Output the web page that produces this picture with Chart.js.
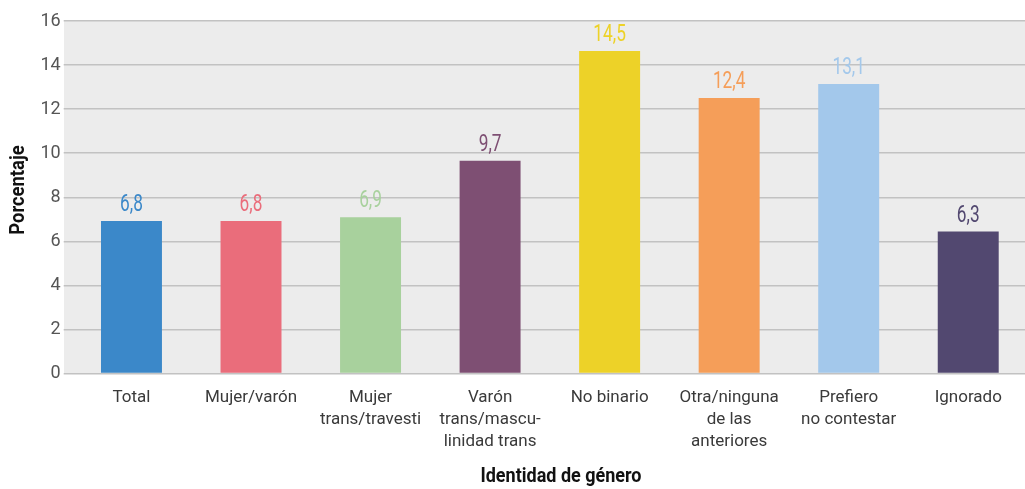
<!DOCTYPE html>
<html>
<head>
<meta charset="utf-8">
<script src="https://cdn.jsdelivr.net/npm/chart.js@4.4.1/dist/chart.umd.min.js"></script>
<style>
  html, body { margin: 0; padding: 0; background: #fff; overflow: hidden; }
  #wrap { position: relative; width: 1030px; height: 489px; }
</style>
</head>
<body>
<div id="wrap"><canvas id="c"></canvas></div>
<script>
const categories = [
  'Total',
  'Mujer/varón',
  ['Mujer', 'trans/travesti'],
  ['Varón', 'trans/mascu-', 'linidad trans'],
  'No binario',
  ['Otra/ninguna', 'de las', 'anteriores'],
  ['Prefiero', 'no contestar'],
  'Ignorado'
];
const values = [6.92, 6.92, 7.09, 9.66, 14.64, 12.51, 13.14, 6.44];
const valueLabels = ['6,8', '6,8', '6,9', '9,7', '14,5', '12,4', '13,1', '6,3'];
const colors = ['#3b88c9', '#ea6d7b', '#a8d19d', '#7e4f73', '#edd228', '#f59e59', '#a3c8eb', '#524870'];
const yTicks = [0, 2, 4, 6, 8, 10, 12, 14, 16];
const yTitle = 'Porcentaje';
const xTitle = 'Identidad de género';

const bgPlugin = {
  id: 'bg',
  beforeDraw(chart) {
    const { ctx, chartArea } = chart;
    ctx.save();
    ctx.fillStyle = '#ececec';
    ctx.fillRect(64, chartArea.top, chartArea.right - 64 + 5, chartArea.bottom - chartArea.top);
    ctx.restore();
  }
};

const labelPlugin = {
  id: 'vlabels',
  afterDatasetsDraw(chart) {
    const { ctx } = chart;
    const meta = chart.getDatasetMeta(0);
    const sx = 0.72;
    meta.data.forEach((bar, i) => {
      ctx.save();
      ctx.font = '24px Roboto, sans-serif';
      ctx.textAlign = 'center';
      ctx.textBaseline = 'alphabetic';
      ctx.fillStyle = colors[i];
      ctx.translate(bar.x, bar.y - 10);
      ctx.scale(sx, 1);
      ctx.fillText(valueLabels[i], 0, 0);
      ctx.restore();
    });
    // axis titles
    ctx.save();
    ctx.fillStyle = '#111';
    ctx.font = 'bold 20px Roboto, sans-serif';
    ctx.textAlign = 'center';
    ctx.textBaseline = 'middle';
    ctx.save();
    ctx.translate(561, 477);
    ctx.scale(0.9, 1);
    ctx.fillText(xTitle, 0, 0);
    ctx.restore();
    ctx.translate(19, 190);
    ctx.rotate(-Math.PI / 2);
    ctx.scale(0.92, 1);
    ctx.fillText(yTitle, 0, 0);
    ctx.restore();
  }
};

new Chart(document.getElementById('c'), {
  type: 'bar',
  data: {
    labels: categories,
    datasets: [{
      data: values,
      backgroundColor: colors,
      borderWidth: 0,
      barPercentage: 0.51,
      categoryPercentage: 1.0
    }]
  },
  options: {
    responsive: true,
    maintainAspectRatio: false,
    animation: false,
    layout: { padding: { top: 21, right: 2, left: 0, bottom: 0 } },
    plugins: { legend: { display: false }, tooltip: { enabled: false } },
    scales: {
      x: {
        grid: { display: false },
        border: { display: false },
        ticks: {
          color: '#3a3a3a',
          font: { family: 'Roboto, sans-serif', size: 17, lineHeight: 1.3 },
          padding: 5,
          maxRotation: 0,
          autoSkip: false
        },
        afterFit(scale) { scale.height = 115.5; }
      },
      y: {
        min: 0,
        max: 16,
        afterBuildTicks(scale) { scale.ticks = yTicks.map(v => ({ value: v })); },
        grid: { color: '#c2c2c2', lineWidth: 1.5, drawTicks: true, tickLength: 8 },
        border: { display: false },
        ticks: {
          color: '#555',
          font: { family: 'Roboto, sans-serif', size: 18 },
          padding: 3
        },
        afterFit(scale) { scale.width = 71.7; }
      }
    }
  },
  plugins: [bgPlugin, labelPlugin]
});
</script>
</body>
</html>
